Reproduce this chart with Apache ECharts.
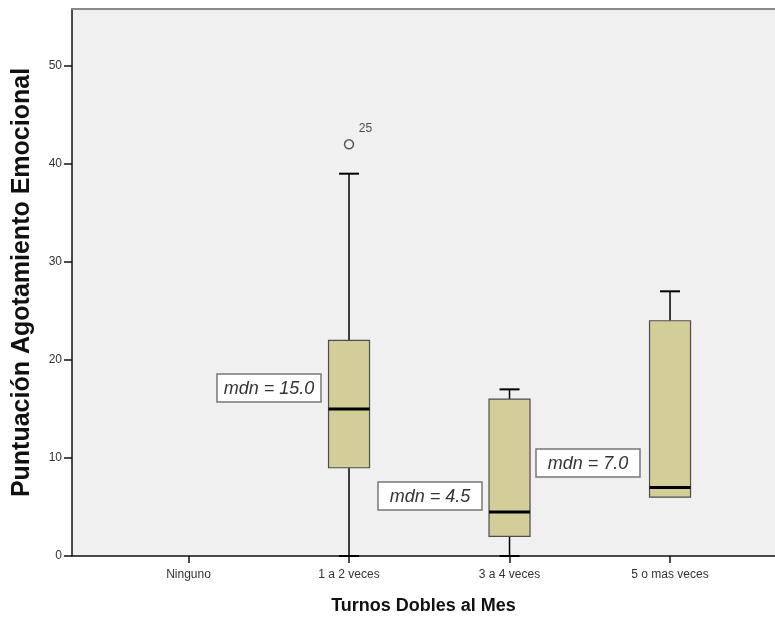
<!DOCTYPE html>
<html>
<head>
<meta charset="utf-8">
<script src="https://cdn.jsdelivr.net/npm/echarts@6/dist/echarts.min.js"></script>
<style>
html,body{margin:0;padding:0;background:#fff;}
#chart{width:775px;height:617px;}
</style>
</head>
<body>
<div id="chart"></div>
<script>
// ---- data ----
var categories = ['Ninguno', '1 a 2 veces', '3 a 4 veces', '5 o mas veces'];
var categoryIndex = [1, 2, 3];           // categories that have a box (Ninguno is empty)
var whiskerLow  = [0, 0, 6];
var quartile1   = [9, 2, 6];
var medians     = [15, 4.5, 7];
var quartile3   = [22, 16, 24];
var whiskerHigh = [39, 17, 27];
var outlierCat  = [1];
var outlierVal  = [42];
var outlierIds  = ['25'];
var yTicks = [0, 10, 20, 30, 40, 50];

var FONT = '"Liberation Sans", Arial, sans-serif';

var boxData = categoryIndex.map(function (c, i) {
  return [c, whiskerLow[i], quartile1[i], medians[i], quartile3[i], whiskerHigh[i]];
});
var outData = outlierCat.map(function (c, i) { return [c, outlierVal[i]]; });

var chart = echarts.init(document.getElementById('chart'));

// annotation boxes (pixel layout)
var mdnPos = [[217, 374], [378, 482], [536, 449]];
var graphics = [];
medians.forEach(function (m, i) {
  var p = mdnPos[i];
  graphics.push({
    type: 'rect', z: 100,
    shape: { x: p[0], y: p[1], width: 104, height: 28 },
    style: { fill: '#fff', stroke: '#777', lineWidth: 1.5 }
  });
  graphics.push({
    type: 'text', z: 101,
    x: p[0] + 52, y: p[1] + 15,
    style: {
      text: 'mdn = ' + m.toFixed(1),
      font: 'italic 18px ' + FONT,
      fill: '#333', align: 'center', verticalAlign: 'middle'
    }
  });
});

var option = {
  backgroundColor: '#fff',
  animation: false,
  grid: {
    left: 72, top: 9, right: 0, bottom: 61,
    outerBoundsMode: 'none',
    containLabel: false,
    show: true, backgroundColor: '#f0f0f0', borderWidth: 0
  },
  xAxis: [{
    type: 'value',
    min: -0.726, max: 3.654,
    name: 'Turnos Dobles al Mes',
    nameLocation: 'middle',
    nameGap: 41,
    nameTextStyle: { fontFamily: FONT, fontSize: 18, fontWeight: 'bold', color: '#111' },
    axisLine: { show: true, onZero: false, lineStyle: { color: '#111', width: 1.5 } },
    axisTick: { show: true, length: 7, customValues: [0, 1, 2, 3], lineStyle: { color: '#111', width: 1.5 } },
    axisLabel: {
      customValues: [0, 1, 2, 3],
      formatter: function (v) { return categories[Math.round(v)] || ''; },
      fontFamily: FONT, fontSize: 12, color: '#333', margin: 13
    },
    splitLine: { show: false }
  }, {
    type: 'value',
    position: 'top',
    min: -0.726, max: 3.654,
    axisLine: { show: true, onZero: false, lineStyle: { color: '#888', width: 2 } },
    axisTick: { show: false },
    axisLabel: { show: false },
    splitLine: { show: false }
  }],
  yAxis: {
    type: 'value',
    min: 0, max: 55.8,
    name: 'Puntuación Agotamiento Emocional',
    nameLocation: 'middle',
    nameGap: 37,
    nameTextStyle: { fontFamily: FONT, fontSize: 25, fontWeight: 'bold', color: '#111' },
    axisLine: { show: true, onZero: false, lineStyle: { color: '#111', width: 1.5 } },
    axisTick: { show: true, length: 8, customValues: yTicks, lineStyle: { color: '#111', width: 1.5 } },
    axisLabel: { customValues: yTicks, fontFamily: FONT, fontSize: 12, color: '#333', margin: 10 },
    splitLine: { show: false }
  },
  series: [
    {
      type: 'custom',
      data: boxData,
      encode: { x: 0, y: [1, 2, 3, 4, 5] },
      z: 5,
      renderItem: function (params, api) {
        var x = api.value(0);
        var lo = api.value(1), q1 = api.value(2), md = api.value(3), q3 = api.value(4), hi = api.value(5);
        var pHi = api.coord([x, hi]), pQ3 = api.coord([x, q3]), pMd = api.coord([x, md]);
        var pQ1 = api.coord([x, q1]), pLo = api.coord([x, lo]);
        var cx = pMd[0];
        var bw = 41, cw = 20;
        var ws = { stroke: '#000', lineWidth: 1.5 };
        var ch = [];
        if (hi > q3) {
          ch.push({ type: 'line', shape: { x1: cx, y1: pHi[1], x2: cx, y2: pQ3[1] }, style: ws });
          ch.push({ type: 'line', shape: { x1: cx - cw / 2, y1: pHi[1], x2: cx + cw / 2, y2: pHi[1] }, style: { stroke: '#000', lineWidth: 2 } });
        }
        if (lo < q1) {
          ch.push({ type: 'line', shape: { x1: cx, y1: pQ1[1], x2: cx, y2: pLo[1] }, style: ws });
          ch.push({ type: 'line', shape: { x1: cx - cw / 2, y1: pLo[1], x2: cx + cw / 2, y2: pLo[1] }, style: { stroke: '#000', lineWidth: 2 } });
        }
        ch.push({
          type: 'rect',
          shape: { x: cx - bw / 2, y: pQ3[1], width: bw, height: pQ1[1] - pQ3[1] },
          style: { fill: '#d3ce99', stroke: '#4d4d4d', lineWidth: 1.2 }
        });
        ch.push({
          type: 'line',
          shape: { x1: cx - bw / 2, y1: pMd[1], x2: cx + bw / 2, y2: pMd[1] },
          style: { stroke: '#000', lineWidth: 3 }
        });
        return { type: 'group', children: ch };
      }
    },
    {
      type: 'scatter',
      data: outData,
      z: 6,
      symbol: 'circle',
      symbolSize: 9,
      itemStyle: { color: 'rgba(0,0,0,0)', borderColor: '#333', borderWidth: 1.5 },
      label: {
        show: true,
        formatter: function (p) { return outlierIds[p.dataIndex]; },
        position: [15, -16],
        align: 'left', verticalAlign: 'top',
        fontFamily: FONT, fontSize: 12, color: '#222'
      }
    }
  ],
  graphic: graphics
};

chart.setOption(option);
</script>
</body>
</html>
